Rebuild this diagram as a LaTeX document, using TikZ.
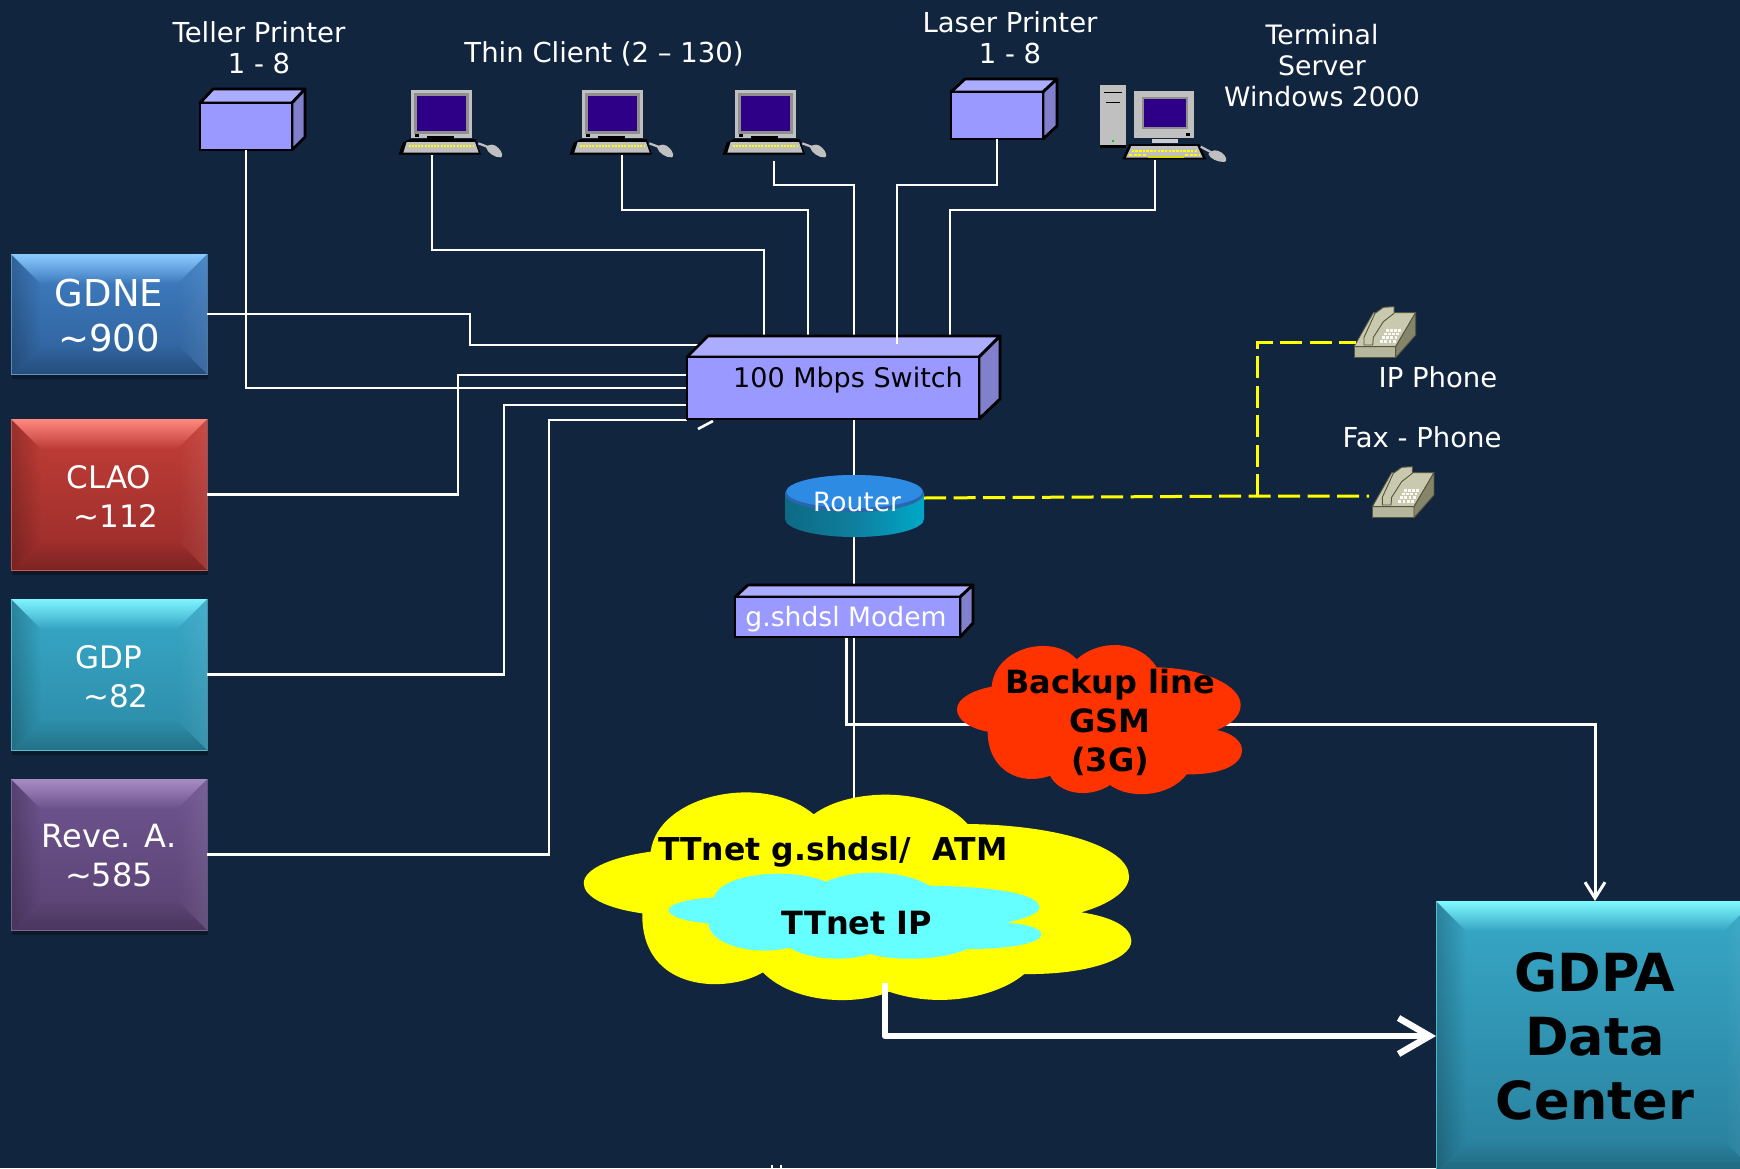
\documentclass[tikz,border=0pt]{standalone}
\usepackage{fontspec}
\setmainfont{DejaVu Sans}
\usetikzlibrary{arrows.meta,fadings}
\definecolor{bgc}{HTML}{11253F}
\definecolor{cubeT}{HTML}{ADADFF}
\definecolor{cubeF}{HTML}{9999FF}
\definecolor{cubeS}{HTML}{8080CC}
\definecolor{pcgrey}{HTML}{C0C0C0}
\definecolor{pcband}{HTML}{8F8F8F}
\definecolor{pcscr}{HTML}{2E0088}
\definecolor{phT}{HTML}{C9C9B0}
\definecolor{phF}{HTML}{B6B69C}
\definecolor{phS}{HTML}{85856B}
\definecolor{phL}{HTML}{55553F}
\definecolor{bluA}{HTML}{3F7FC4}\definecolor{bluB}{HTML}{2E5F98}\definecolor{bluH}{HTML}{8CCBFF}
\definecolor{redA}{HTML}{C43E38}\definecolor{redB}{HTML}{982C2A}\definecolor{redH}{HTML}{FF8A80}
\definecolor{cyaA}{HTML}{38A9C9}\definecolor{cyaB}{HTML}{2B8AA6}\definecolor{cyaH}{HTML}{7FF5FF}
\definecolor{purA}{HTML}{6E5590}\definecolor{purB}{HTML}{5A4272}\definecolor{purH}{HTML}{A88CC4}
\definecolor{dcA}{HTML}{38A8C8}\definecolor{dcB}{HTML}{287F9C}\definecolor{dcH}{HTML}{7FFBFF}
\definecolor{cldRed}{HTML}{FF3300}
\definecolor{cldCya}{HTML}{66FFFF}
\definecolor{cldY}{HTML}{FFFF00}
\definecolor{rtTop}{HTML}{2E8BE4}\definecolor{rtRim}{HTML}{2A66AE}
\definecolor{rtL}{HTML}{0D6A84}\definecolor{rtM}{HTML}{0F7F9E}\definecolor{rtR}{HTML}{00A8C8}
\tikzset{
  x=1pt,y=-1pt,
  wire/.style={draw=white,line width=2.6pt,line join=miter},
  dashwire/.style={draw=cldY,line width=3pt,dash pattern=on 22pt off 7.5pt},
  lab/.style={text=white,align=center,inner sep=0pt,font=\fontsize{27.5}{31}\selectfont},
  blab/.style={text=black,align=center,inner sep=0pt,font=\fontsize{32}{39}\selectfont\bfseries},
  cubefront/.style={draw=black,line width=2.8pt,fill=cubeF,inner sep=0pt,outer sep=0pt},
  cubeface/.style={draw=black,line width=2.8pt,line join=round},
  fGdne/.style={text=white,yshift=-2pt,font=\fontsize{37}{45}\selectfont},
  fBox/.style={text=white,yshift=-1.8pt,font=\fontsize{31}{39}\selectfont},
  fReve/.style={text=white,yshift=-1.5pt,font=\fontsize{32}{39}\selectfont},
  fDc/.style={text=black,yshift=-.5pt,font=\fontsize{52.5}{64}\selectfont\bfseries},
  boxtext/.style={align=center,inner sep=0pt,outer sep=0pt},
  pcicon/.pic={
    \fill[pcgrey] (93,90) rectangle (275,235);
    \fill[pcband] (102,100) rectangle (266,222);
    \fill[pcscr] (112,108) rectangle (258,212);
    \fill[black] (140,229) rectangle (222,238);
    \fill[black] (105,222) rectangle (118,231);
    \fill[black] (56,284) -- (68,248) -- (90,237) -- (287,237) -- (303,284) -- cycle;
    \fill[pcgrey] (70,278) -- (80,246) -- (285,246) -- (296,278) -- cycle;
    \draw[cldY,line width=1.8pt,dash pattern=on 2pt off 1.2pt] (86,257) -- (282,257);
    \draw[pcgrey,line width=2.2pt] (295,250) -- (332,264);
    \fill[pcgrey] (318,262) .. controls (328,250) and (345,252) .. (355,264) .. controls (367,274) and (370,292) .. (362,292) .. controls (345,294) and (322,278) .. (318,262) -- cycle;
  },
  termicon/.pic={
    \fill[black] (60,250) rectangle (137,263);
    \fill[pcgrey] (60,75) rectangle (137,256);
    \draw[black,line width=1.5pt] (73,97) -- (125,97);
    \draw[black,line width=1.2pt] (78,127) -- (120,127);
    \fill[green!80!black] (96,239) rectangle (102,245);
    \fill[pcgrey] (162,93) rectangle (343,233);
    \fill[pcband] (186,112) rectangle (324,208);
    \fill[pcscr] (192,118) rectangle (318,202);
    \fill[black] (317,220) rectangle (331,227);
    \fill[pcgrey!80] (215,238) rectangle (295,250);
    \fill[black] (127,298) -- (148,252) -- (358,252) -- (379,298) -- cycle;
    \fill[pcgrey] (138,293) -- (154,258) -- (352,258) -- (368,293) -- cycle;
    \draw[cldY,line width=1.8pt,dash pattern=on 2.5pt off 1.2pt] (155,272) -- (350,272);
    \draw[cldY,line width=1.8pt,dash pattern=on 3pt off 1.5pt] (148,285) -- (200,285);
    \draw[cldY,line width=1.8pt,dash pattern=on 3pt off 1.5pt] (316,285) -- (358,285);
    \fill[cldY!85!black] (205,288) rectangle (312,293);
    \draw[pcgrey,line width=2.2pt] (362,260) -- (392,276);
    \fill[pcgrey] (385,282) .. controls (395,268) and (410,268) .. (425,278) .. controls (440,288) and (444,306) .. (432,306) .. controls (412,306) and (390,296) .. (385,282) -- cycle;
  },
  phoneicon/.pic={
    \filldraw[fill=phF,draw=phL,line width=.9pt,line join=round] (102,170) rectangle (227,203);
    \filldraw[fill=phT,draw=phL,line width=.9pt,line join=round] (102,170) -- (160,68) -- (287,68) -- (227,170) -- cycle;
    \filldraw[fill=phS,draw=phL,line width=.9pt,line join=round] (227,170) -- (287,68) -- (287,135) -- (227,203) -- cycle;
    \filldraw[fill=phT,draw=phL,line width=.9pt,line join=round] (132,165) -- (132,142) -- (165,70) -- (190,52) -- (222,50) -- (222,70) -- (190,95) -- (160,142) -- (158,165) -- cycle;
    \foreach \r in {0,1,2,3} \foreach \c in {0,1,2,3}
      \fill[white!90!phT] ({197-5.5*\r+12.5*\c},{117+11*\r}) rectangle ++(8.5,7.5);
  }
}
% beveled panel: name, x1,y1,x2,y2, colour set prefix, font style, text
\newcommand\bevbox[8]{%
  \fill[black,opacity=.3] (#2+1,#3+3) rectangle (#4+1,#5+5);
  \shade[top color=#6A,bottom color=#6B] (#2,#3) rectangle (#4,#5);
  \fill[#6H,path fading=south] (#2,#3) -- (#4,#3) -- (#4-30,#3+30) -- (#2+30,#3+30) -- cycle;
  \fill[black,opacity=.22,path fading=east] (#2,#3) -- (#2+30,#3+30) -- (#2+30,#5-30) -- (#2,#5) -- cycle;
  \fill[white,opacity=.08,path fading=west] (#4,#3) -- (#4-30,#3+30) -- (#4-30,#5-30) -- (#4,#5) -- cycle;
  \fill[black,opacity=.18,path fading=north] (#2,#5) -- (#2+30,#5-30) -- (#4-30,#5-30) -- (#4,#5) -- cycle;
  \draw[#6H,opacity=.5,line width=1pt] (#2,#3) rectangle (#4,#5);
  \node[boxtext,minimum width={(#4-#2)*1pt},minimum height={(#5-#3)*1pt}] (#1) at ({(#2+#4)/2},{(#3+#5)/2}) {};
  \node[boxtext,#7] (#1lab) at (#1.center) {#8};
}
% 3-D box: name, x1,y1,x2,y2, dx, dy, side-bottom y
\newcommand\cubebox[8]{%
  \filldraw[cubeface,fill=cubeT] (#2,#3) -- (#2+#6,#3-#7) -- (#4+#6,#3-#7) -- (#4,#3) -- cycle;
  \filldraw[cubeface,fill=cubeS] (#4,#3) -- (#4+#6,#3-#7) -- (#4+#6,#8) -- (#4,#5) -- cycle;
  \node[cubefront,minimum width={(#4-#2)*1pt},minimum height={(#5-#3)*1pt}] (#1) at ({(#2+#4)/2},{(#3+#5)/2}) {};
}
\begin{document}
\begin{tikzpicture}
\fill[bgc] (0,0) rectangle (1740,1168);
\useasboundingbox (0,0) rectangle (1740,1168);
\clip (0,0) rectangle (1740,1168);

% ports
\coordinate (pcA) at (432,155);  \coordinate (pcB) at (622,155);  \coordinate (pcC) at (774,161);
\coordinate (swA) at (764,336);  \coordinate (swB) at (808,336);  \coordinate (swC) at (854,336);
\coordinate (swD) at (897,344);  \coordinate (swE) at (950,336);  \coordinate (termP) at (1155,160);
\coordinate (swL1) at (699,345); \coordinate (swL2) at (687,375); \coordinate (swL3) at (687,388);
\coordinate (swL4) at (687,405); \coordinate (swL5) at (687,420);
\coordinate (strayA) at (698,429); \coordinate (strayB) at (713,421);
\coordinate (swOut) at (854,419); \coordinate (rtIn) at (854,475); \coordinate (rtOut) at (854,537);
\coordinate (mdIn) at (854,585); \coordinate (mdA) at (846,637); \coordinate (mdB) at (854,637);
\coordinate (ttIn) at (854,800); \coordinate (ttOut) at (885,983);
\coordinate (phA) at (1356,342); \coordinate (phB) at (1369,496);
\coordinate (dashJ) at (1257,496);
\coordinate (routerR) at (924,498);
\coordinate (laserP) at (997,139);

% left panels
\bevbox{gdne}{11}{254}{207}{374}{blu}{fGdne}{GDNE\\\textasciitilde900}
\bevbox{clao}{11}{419}{207}{570}{red}{fBox}{CLAO\\\hspace*{.45em}\textasciitilde112}
\bevbox{gdp}{11}{599}{207}{750}{cya}{fBox}{GDP\\\hspace*{.45em}\textasciitilde82}
\bevbox{reve}{11}{779}{207}{930}{pur}{fReve}{Reve. A.\\\textasciitilde585}

% data centre panel
\bevbox{gdpa}{1436}{901}{1754}{1171}{dc}{fDc}{GDPA\\Data\\Center}

% devices in the top row
\cubebox{tp}{200}{103}{292}{150}{13}{14}{137}
\cubebox{lp}{951}{92}{1043}{139}{14}{13}{126}
\pic[scale=.33333] at (380,60) {pcicon};
\pic[scale=.33333] at (551,60) {pcicon};
\pic[scale=.33333] at (704,60) {pcicon};
\pic[scale=.33333] at (1080,60) {termicon};
\pic[scale=.33333] at (1320,290) {phoneicon};
\pic[scale=.33333] at (1338.3,450) {phoneicon};

% wires
\draw[wire] (tp.south) |- (swL3);
\draw[wire] (pcA) -- ++(0,95) -| (swA);
\draw[wire] (pcB) -- ++(0,55) -| (swB);
\draw[wire] (pcC) -- ++(0,24) -| (swC);
\draw[wire] (termP) -- ++(0,50) -| (swE);
\draw[wire] (gdne.east) -- ++(263,0) |- (swL1);
\draw[wire] (clao.east) -- ++(251,0) |- (swL2);
\draw[wire] (gdp.east) -- ++(297,0) |- (swL4);
\draw[wire] (reve.east) -- ++(342,0) |- (swL5);
\draw[wire] (strayA) -- (strayB);
\draw[wire] (swOut) -- (rtIn);
\draw[wire] (rtOut) -- (mdIn);
\draw[wire] (mdB) -- (ttIn);
\draw[wire,line width=3pt,-{Straight Barb[length=16pt,width=20pt]}] (mdA) -- ++(0,87) -| (gdpa.north);

% yellow cloud
\begin{scope}[shift={(560,780)},xscale=.38267,yscale=.33333]
\fill[cldY] (237,215) .. controls (255,45) and (530,-25) .. (663,103)
  .. controls (760,20) and (980,20) .. (1065,132)
  .. controls (1300,135) and (1487,200) .. (1487,290)
  .. controls (1487,335) and (1430,375) .. (1362,397)
  .. controls (1440,410) and (1493,440) .. (1493,483)
  .. controls (1493,540) and (1370,585) .. (1213,582)
  .. controls (1150,645) and (1000,690) .. (860,635)
  .. controls (790,672) and (620,680) .. (530,577)
  .. controls (440,640) and (212,640) .. (215,400)
  .. controls (120,385) and (62,350) .. (62,310)
  .. controls (62,265) and (140,230) .. (237,215) -- cycle;
\fill[cldCya] (402,352) .. controls (420,280) and (600,260) .. (695,305)
  .. controls (770,265) and (900,270) .. (965,317)
  .. controls (1130,320) and (1253,340) .. (1253,383)
  .. controls (1253,400) and (1210,418) .. (1165,428)
  .. controls (1220,432) and (1258,445) .. (1258,463)
  .. controls (1258,490) and (1170,508) .. (1065,507)
  .. controls (1000,540) and (880,545) .. (810,522)
  .. controls (750,545) and (650,540) .. (600,503)
  .. controls (500,530) and (388,490) .. (388,430)
  .. controls (330,425) and (284,410) .. (284,390)
  .. controls (284,370) and (340,357) .. (402,352) -- cycle;
\end{scope}
% red cloud
\begin{scope}[shift={(940,630)},scale=.33333]
\fill[cldRed] (155,170) .. controls (165,50) and (340,10) .. (410,88)
  .. controls (480,25) and (600,30) .. (650,112)
  .. controls (790,115) and (902,165) .. (902,225)
  .. controls (902,260) and (870,285) .. (830,300)
  .. controls (880,310) and (906,335) .. (906,360)
  .. controls (906,410) and (830,435) .. (740,433)
  .. controls (690,500) and (570,510) .. (510,465)
  .. controls (450,505) and (360,495) .. (330,437)
  .. controls (240,470) and (143,420) .. (143,305)
  .. controls (90,295) and (51,270) .. (51,238)
  .. controls (51,205) and (100,180) .. (155,170) -- cycle;
\end{scope}

% router
\shade[left color=rtL,right color=rtR,middle color=rtM] (785,493) -- (785,519) .. controls (785,529) and (816,537) .. (854.5,537) .. controls (893,537) and (924,529) .. (924,519) -- (924,493) -- cycle;
\fill[rtRim] (854.5,493.5) ellipse[x radius=69.5pt,y radius=18.5pt];
\fill[rtTop] (854.5,491.5) ellipse[x radius=68pt,y radius=16.5pt];

% switch and modem
\cubebox{sw}{687}{357}{979}{419}{21}{21}{399}
\cubebox{md}{735}{597}{960}{637}{13}{12}{623}
\draw[wire] (laserP) -- ++(0,46) -| (swD);
\node[lab,text=black,font=\fontsize{27}{31}\selectfont] (swlab) at (848,380) {100 Mbps Switch};
\node[lab,font=\fontsize{26.6}{31}\selectfont] (mdlab) at (846,619) {g.shdsl Modem};
\node[lab,font=\fontsize{26.5}{31}\selectfont] (rtlab) at (857,502) {Router};

% dashed
\draw[dashwire] (routerR) -- (dashJ) -- (phB);
\draw[dashwire] (dashJ) |- (phA);

% thick output
\draw[wire,line width=6.5pt,line join=round,-{Straight Barb[length=31pt,width=36pt]}] (ttOut) |- (gdpa.west);

% labels
\node[lab] (l1) at (259,48) {Teller Printer\\1 - 8};
\node[lab] (l2) at (604,53.5) {Thin Client (2 – 130)};
\node[lab] (l3) at (1010,38) {Laser Printer\\1 - 8};
\node[lab,font=\fontsize{26.7}{31}\selectfont] (l4) at (1322,66) {Terminal\\Server\\Windows 2000};
\node[lab] (l5) at (1438,377) {IP Phone};
\node[lab] (l6) at (1422,437) {Fax - Phone};
\node[blab] (c1) at (1110,722.5) {Backup line\\GSM\\(3G)};
\node[blab,font=\fontsize{31.5}{39}\selectfont\bfseries] (c2) at (833,852) {TTnet g.shdsl/\ \ ATM};
\node[blab] (c3) at (857,923) {TTnet IP};
\fill[white] (771,1165) rectangle (773,1168);
\fill[white] (780,1165) rectangle (782,1168);
\end{tikzpicture}
\end{document}
